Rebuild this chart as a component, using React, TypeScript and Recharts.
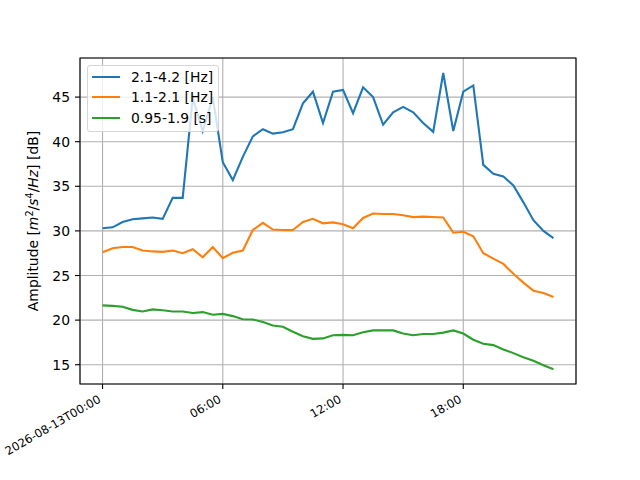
import {
  CartesianGrid,
  Legend,
  Line,
  LineChart,
  ReferenceArea,
  XAxis,
  YAxis,
} from "recharts";

const FONT = "DejaVu Sans";

// hours since 2026-08-13T00:00, one reading every 30 min
const hours = [
  0, 0.5, 1, 1.5, 2, 2.5, 3, 3.5, 4, 4.5, 5, 5.5, 6, 6.5, 7, 7.5, 8, 8.5, 9, 9.5,
  10, 10.5, 11, 11.5, 12, 12.5, 13, 13.5, 14, 14.5, 15, 15.5, 16, 16.5, 17, 17.5,
  18, 18.5, 19, 19.5, 20, 20.5, 21, 21.5, 22, 22.5,
];

const band1 = [
  30.3, 30.4, 31.0, 31.3, 31.4, 31.5, 31.35, 33.7, 33.7, 44.9, 41.2, 45.0, 37.7,
  35.7, 38.3, 40.6, 41.4, 40.9, 41.05, 41.4, 44.3, 45.6, 42.1, 45.6, 45.8, 43.2,
  46.1, 45.0, 41.9, 43.3, 43.9, 43.3, 42.1, 41.1, 47.7, 41.2, 45.6, 46.3, 37.4,
  36.4, 36.1, 35.1, 33.2, 31.2, 30.0, 29.2,
];

const band2 = [
  27.6, 28.05, 28.2, 28.2, 27.8, 27.7, 27.65, 27.8, 27.5, 27.95, 27.05, 28.2,
  26.95, 27.55, 27.8, 30.1, 30.9, 30.15, 30.1, 30.1, 31.0, 31.35, 30.85, 30.95,
  30.75, 30.3, 31.45, 31.95, 31.9, 31.9, 31.75, 31.55, 31.6, 31.55, 31.5, 29.8,
  29.9, 29.4, 27.5, 26.9, 26.3, 25.2, 24.2, 23.3, 23.05, 22.6,
];

const band3 = [
  21.65, 21.6, 21.5, 21.15, 20.97, 21.2, 21.1, 20.97, 20.97, 20.8, 20.9, 20.6,
  20.7, 20.45, 20.1, 20.07, 19.8, 19.4, 19.25, 18.7, 18.2, 17.9, 17.95, 18.3,
  18.35, 18.3, 18.65, 18.85, 18.85, 18.85, 18.5, 18.3, 18.45, 18.45, 18.6, 18.85,
  18.5, 17.8, 17.35, 17.2, 16.7, 16.3, 15.85, 15.45, 14.95, 14.5,
];

const seriesNames = ["2.1-4.2 [Hz]", "1.1-2.1 [Hz]", "0.95-1.9 [s]"];
const colors = ["#1f77b4", "#ff7f0e", "#2ca02c"];

const xTicks = [0, 6, 12, 18];
const xTickLabels = ["2026-08-13T00:00", "06:00", "12:00", "18:00"];
const yTicks = [15, 20, 25, 30, 35, 40, 45];

const xDomain = [-1.125, 23.625];
const yDomain = [12.84, 49.38];

const data = hours.map((h, i) => ({
  t: h,
  b1: band1[i],
  b2: band2[i],
  b3: band3[i],
}));

function XTick(props: any) {
  const { x, payload } = props;
  const idx = xTicks.indexOf(payload.value);
  return (
    <text
      transform={`translate(${x - 1},${401.5}) rotate(-30)`}
      textAnchor="end"
      fontFamily={FONT}
      fontSize={11.6}
      fill="#000"
    >
      {xTickLabels[idx]}
    </text>
  );
}

function YTick(props: any) {
  const { y, payload } = props;
  return (
    <text
      x={70}
      y={y}
      textAnchor="end"
      dominantBaseline="central"
      fontFamily={FONT}
      fontSize={13.9}
      fill="#000"
    >
      {payload.value}
    </text>
  );
}

function YLabel() {
  return (
    <text
      transform="translate(38,221) rotate(-90)"
      textAnchor="middle"
      fontFamily={FONT}
      fontSize={13.9}
      fill="#000"
    >
      Amplitude [<tspan fontStyle="italic">m</tspan>
      <tspan fontSize={9.7} dy={-5}>2</tspan>
      <tspan dy={5}>/</tspan>
      <tspan fontStyle="italic">s</tspan>
      <tspan fontSize={9.7} dy={-5}>4</tspan>
      <tspan dy={5}>/</tspan>
      <tspan fontStyle="italic">Hz</tspan>] [dB]
    </text>
  );
}

function LegendBox() {
  return (
    <div
      style={{
        width: 130,
        height: 65,
        border: "1px solid #d6d6d6",
        borderRadius: 3,
        background: "rgba(255,255,255,0.8)",
        fontFamily: FONT,
        fontSize: 13.9,
        color: "#000",
        position: "relative",
      }}
    >
      {seriesNames.map((name, i) => (
        <div
          key={name}
          style={{
            position: "absolute",
            left: 4,
            top: [11, 31, 51.5][i] - 10,
            height: 20,
            display: "flex",
            alignItems: "center",
            whiteSpace: "nowrap",
          }}
        >
          <span
            style={{
              display: "inline-block",
              width: 28,
              height: 2,
              background: colors[i],
              marginRight: 11,
            }}
          />
          <span>{name}</span>
        </div>
      ))}
    </div>
  );
}

export default function App() {
  return (
    <div
      style={{
        position: "absolute",
        left: 0,
        top: 0,
        width: 640,
        height: 480,
        background: "#fff",
      }}
    >
      <LineChart
        width={640}
        height={480}
        data={data}
        margin={{ top: 58, right: 64, bottom: 66, left: 20 }}
      >
        <CartesianGrid stroke="#b0b0b0" strokeWidth={1.1} />
        <XAxis
          dataKey="t"
          type="number"
          domain={xDomain}
          ticks={xTicks}
          height={30}
          axisLine={false}
          tickLine={{ stroke: "#000", strokeWidth: 1.1 }}
          tickSize={5}
          tick={<XTick />}
          interval={0}
        />
        <YAxis
          type="number"
          domain={yDomain}
          ticks={yTicks}
          width={60}
          axisLine={false}
          tickLine={{ stroke: "#000", strokeWidth: 1.1 }}
          tickSize={5}
          tick={<YTick />}
          interval={0}
          label={<YLabel />}
        />
        <Line
          dataKey="b1"
          name={seriesNames[0]}
          stroke={colors[0]}
          strokeWidth={2.1}
          dot={false}
          isAnimationActive={false}
        />
        <Line
          dataKey="b2"
          name={seriesNames[1]}
          stroke={colors[1]}
          strokeWidth={2.1}
          dot={false}
          isAnimationActive={false}
        />
        <Line
          dataKey="b3"
          name={seriesNames[2]}
          stroke={colors[2]}
          strokeWidth={2.1}
          dot={false}
          isAnimationActive={false}
        />
        <ReferenceArea
          x1={xDomain[0]}
          x2={xDomain[1]}
          y1={yDomain[0]}
          y2={yDomain[1]}
          fill="none"
          stroke="#000"
          strokeWidth={1.1}
          ifOverflow="visible"
        />
        <Legend
          layout="vertical"
          align="center"
          verticalAlign="middle"
          content={<LegendBox />}
          wrapperStyle={{ left: 87, top: 65, width: 132, height: 67 }}
        />
      </LineChart>
    </div>
  );
}
